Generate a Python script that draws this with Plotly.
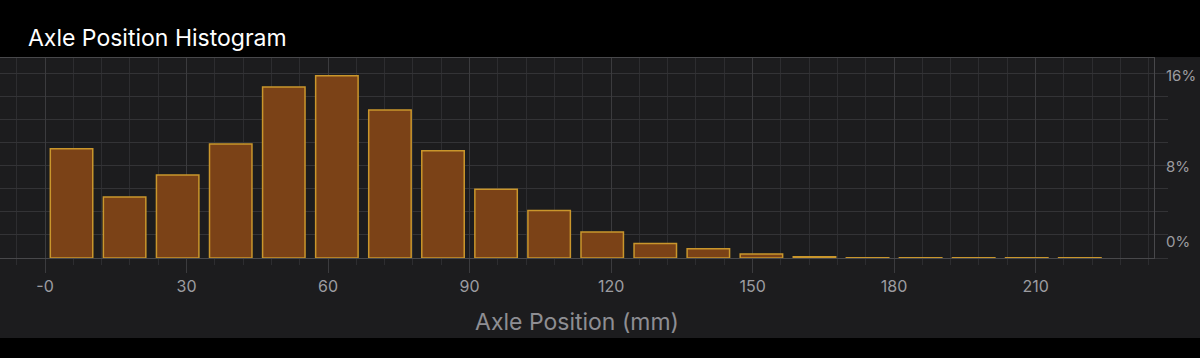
import plotly.graph_objects as go

# ---- data ----
bin_start = 0.0
bin_width = 11.25
share_pct = [9.44, 5.27, 7.19, 9.87, 14.79, 15.77, 12.81, 9.27, 5.94, 4.11,
             2.25, 1.26, 0.80, 0.35, 0.11, 0.03, 0.02, 0.02, 0.02, 0.02]
x_tick_values = [0, 30, 60, 90, 120, 150, 180, 210]
x_tick_labels = ["-0", "30", "60", "90", "120", "150", "180", "210"]
y_tick_values = [0, 8, 16]
y_tick_labels = ["0%", "8%", "16%"]

centers = [bin_start + (i + 0.5) * bin_width for i in range(len(share_pct))]

# label placement tweaks (the reference lifts the lowest label off the axis)
y_label_shift = {0: 1.4, 8: -0.1, 16: -0.25}
y_label_pos = [v + y_label_shift[v] for v in y_tick_values]

GRID_MAJOR = "#3b3b3e"
GRID_MINOR = "#2d2d30"
TICK_TXT = "#9c9ca1"
FONT = "Inter, Roboto, sans-serif"

fig = go.Figure()
fig.add_trace(go.Bar(
    x=centers, y=share_pct, width=bin_width * 0.8,
    marker=dict(color="#7b4217", line=dict(color="#c9962c", width=1.5)),
    hoverinfo="skip",
))

fig.update_layout(
    width=1200, height=358,
    margin=dict(l=0, r=46, t=58, b=100, autoexpand=False),
    paper_bgcolor="#000000",
    plot_bgcolor="#222225",
    showlegend=False,
    font=dict(family=FONT, color=TICK_TXT),
    title=dict(text="Axle Position Histogram", x=28 / 1200, xanchor="left",
               y=1 - 38 / 358, yanchor="middle",
               font=dict(family=FONT, size=23, color="#ffffff")),
    shapes=[dict(type="rect", xref="paper", yref="paper", layer="below",
                 x0=0, x1=1200 / 1154, y0=(258 - 338) / 200, y1=(258 - 57) / 200,
                 fillcolor="#1c1c1e", line=dict(width=0))],
)

fig.update_xaxes(
    range=[-9.54, 235.1],
    tickmode="array", tickvals=x_tick_values, ticktext=x_tick_labels,
    ticks="outside", ticklen=14, tickcolor=GRID_MAJOR, tickwidth=1,
    showgrid=True, gridcolor=GRID_MAJOR, gridwidth=1,
    minor=dict(tick0=0, dtick=6, showgrid=True, gridcolor=GRID_MINOR,
               ticks="outside", ticklen=6, tickcolor=GRID_MINOR),
    tickfont=dict(size=16, color=TICK_TXT),
    showline=True, linecolor="#48484b", mirror=True,
    zeroline=False, layer="below traces",
    title=dict(text="Axle Position (mm)", standoff=18,
               font=dict(size=23, color="#8e8e93")),
)

fig.update_yaxes(
    side="right", range=[0, 17.3],
    tickmode="array", tickvals=y_label_pos, ticktext=y_tick_labels,
    ticks="outside", ticklen=8, tickcolor="rgba(0,0,0,0)",
    showgrid=False,
    minor=dict(tick0=0, dtick=2, showgrid=True, gridcolor="#333336",
               ticks="outside", ticklen=13, tickcolor="#333336"),
    tickfont=dict(size=15, color=TICK_TXT),
    showline=True, linecolor="#48484b", mirror=True,
    zeroline=False, layer="below traces",
)

fig.write_html("out.html")
